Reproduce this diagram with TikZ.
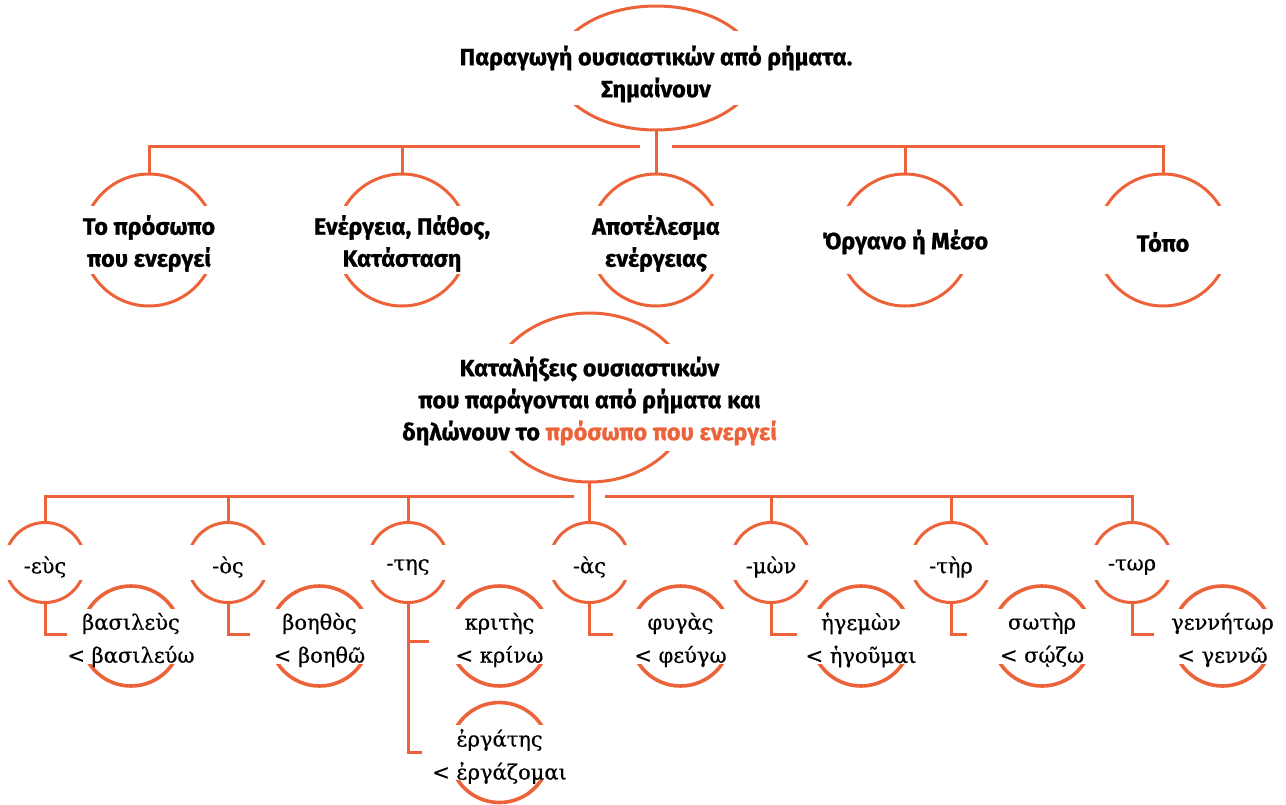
\documentclass[tikz,border=0pt]{standalone}
\usepackage{fontspec}
\setmainfont{DejaVu Serif}[FakeBold=0.6]
\newfontfamily\headfont{Fira Sans}[BoldFeatures={FakeBold=0.8}]
\usetikzlibrary{shapes.geometric,calc}
\definecolor{accent}{RGB}{236,99,57}

% open a white band across a ring, where its text sits
\newcommand\ringgap[3]{%
  \fill[white] ($(#1.center)+(-#2/2,-#3/2)$) rectangle ++(#2,#3);}

\begin{document}
\begin{tikzpicture}[x=1pt,y=-1pt,
  link/.style={draw=accent,line width=3pt},
  ring/.style={draw=accent,line width=3pt,inner sep=0pt,outer sep=0pt},
  topring/.style={ring,ellipse,minimum width=200pt,minimum height=124pt},
  midring/.style={ring,ellipse,minimum width=203pt,minimum height=169pt},
  bigring/.style={ring,circle,minimum size=132pt},
  endring/.style={ring,circle,minimum size=80pt},
  wordring/.style={ring,circle,minimum size=100pt,line width=3.6pt},
  headtext/.style={inner sep=0pt,align=center,
    font=\headfont\bfseries\fontsize{23.5}{32}\selectfont},
  seriftext/.style={inner sep=0pt,align=center,
    font=\fontsize{21}{33}\selectfont},
]
\useasboundingbox (0,0) rectangle (1286,804);

% title
\node[topring] (top) at (656,68) {};
\ringgap{top}{212}{74}
\node[headtext] (topt) at (656,74) {Παραγωγή ουσιαστικών από ρήματα.\\Σημαίνουν};

% meanings
\node[bigring] (m1) at (149,240) {};
\node[bigring] (m2) at (402,240) {};
\node[bigring] (m3) at (656,240) {};
\node[bigring] (m4) at (905,240) {};
\node[bigring] (m5) at (1163,240) {};
\foreach \m in {m1,m2,m3,m4,m5} {\ringgap{\m}{142}{68}}
\node[headtext] (m1t) at (149,243.5) {Το πρόσωπο\\που ενεργεί};
\node[headtext] (m2t) at (402,243.5) {Ενέργεια, Πάθος,\\Κατάσταση};
\node[headtext] (m3t) at (656,243.5) {Αποτέλεσμα\\ενέργειας};
\node[headtext] (m4t) at (905,242) {Όργανο ή Μέσο};
\node[headtext] (m5t) at (1163,242) {Τόπο};

% endings heading
\node[midring] (mid) at (589.5,397.5) {};
\ringgap{mid}{215}{107}
\node[headtext] (midt) at (589.5,401) {Καταλήξεις ουσιαστικών\\που παράγονται από ρήματα και\\δηλώνουν το \textcolor{accent}{πρόσωπο που ενεργεί}};

% endings
\node[endring] (k1) at (45,562.5) {};
\node[endring] (k2) at (228,562.5) {};
\node[endring] (k3) at (408,562.5) {};
\node[endring] (k4) at (589.5,562.5) {};
\node[endring] (k5) at (771,562.5) {};
\node[endring] (k6) at (951,562.5) {};
\node[endring] (k7) at (1132,562.5) {};
\foreach \k in {k1,k2,k3,k4,k5,k6,k7} {\ringgap{\k}{90}{35}}
\node[seriftext] (k1t) at (45,567) {-εὺς};
\node[seriftext] (k2t) at (228,567) {-ὸς};
\node[seriftext] (k3t) at (408,567) {-της};
\node[seriftext] (k4t) at (589.5,567) {-ὰς};
\node[seriftext] (k5t) at (771,567) {-μὼν};
\node[seriftext] (k6t) at (951,567) {-τὴρ};
\node[seriftext] (k7t) at (1132,567) {-τωρ};

% example words
\node[wordring] (w1) at (131,636) {};
\node[wordring] (w2) at (319.5,636) {};
\node[wordring] (w3) at (499.5,636) {};
\node[wordring] (w3b) at (499.5,752.5) {};
\node[wordring] (w4) at (680.5,636) {};
\node[wordring] (w5) at (861,636) {};
\node[wordring] (w6) at (1042,636) {};
\node[wordring] (w7) at (1222.5,636) {};
\foreach \w in {w1,w2,w3,w3b,w4,w5,w6,w7} {\ringgap{\w}{110}{55}}
\node[seriftext] (w1t) at (131,640) {βασιλεὺς\\< βασιλεύω};
\node[seriftext] (w2t) at (319.5,640) {βοηθὸς\\< βοηθῶ};
\node[seriftext] (w3t) at (499.5,640) {κριτὴς\\< κρίνω};
\node[seriftext] (w3bt) at (499.5,756.5) {ἐργάτης\\< ἐργάζομαι};
\node[seriftext] (w4t) at (680.5,640) {φυγὰς\\< φεύγω};
\node[seriftext] (w5t) at (861,640) {ἡγεμὼν\\< ἡγοῦμαι};
\node[seriftext] (w6t) at (1042,640) {σωτὴρ\\< σῴζω};
\node[seriftext] (w7t) at (1222.5,640) {γεννήτωρ\\< γεννῶ};

% upper tree
\coordinate (busL) at (640,146);
\coordinate (busR) at (672,146);
\draw[link] (m1.north) |- (busL);
\draw[link] (m2.north) -- (m2.north |- busL);
\draw[link] (top.south) -- (m3.north);
\draw[link] (busR) -| (m5.north);
\draw[link] (m4.north) -- (m4.north |- busR);

% lower tree
\coordinate (bus2L) at (574,496);
\coordinate (bus2R) at (605,496);
\draw[link] (k1.north) |- (bus2L);
\draw[link] (k2.north) -- (k2.north |- bus2L);
\draw[link] (k3.north) -- (k3.north |- bus2L);
\draw[link] (mid.south) -- (k4.north);
\draw[link] (bus2R) -| (k7.north);
\draw[link] (k5.north) -- (k5.north |- bus2R);
\draw[link] (k6.north) -- (k6.north |- bus2R);

% stubs to the example words
\coordinate (e1) at (67,634);
\coordinate (e2) at (250,634);
\coordinate (e3) at (429,641);
\coordinate (e3b) at (422,752.5);
\coordinate (e4) at (613,634);
\coordinate (e5) at (797,634);
\coordinate (e6) at (967,634);
\coordinate (e7) at (1154,634);
\draw[link] (k1.south) |- (e1);
\draw[link] (k2.south) |- (e2);
\draw[link] (k3.south) |- (e3b);
\draw[link] (k3.south |- e3) -- (e3);
\draw[link] (k4.south) |- (e4);
\draw[link] (k5.south) |- (e5);
\draw[link] (k6.south) |- (e6);
\draw[link] (k7.south) |- (e7);
\end{tikzpicture}
\end{document}
